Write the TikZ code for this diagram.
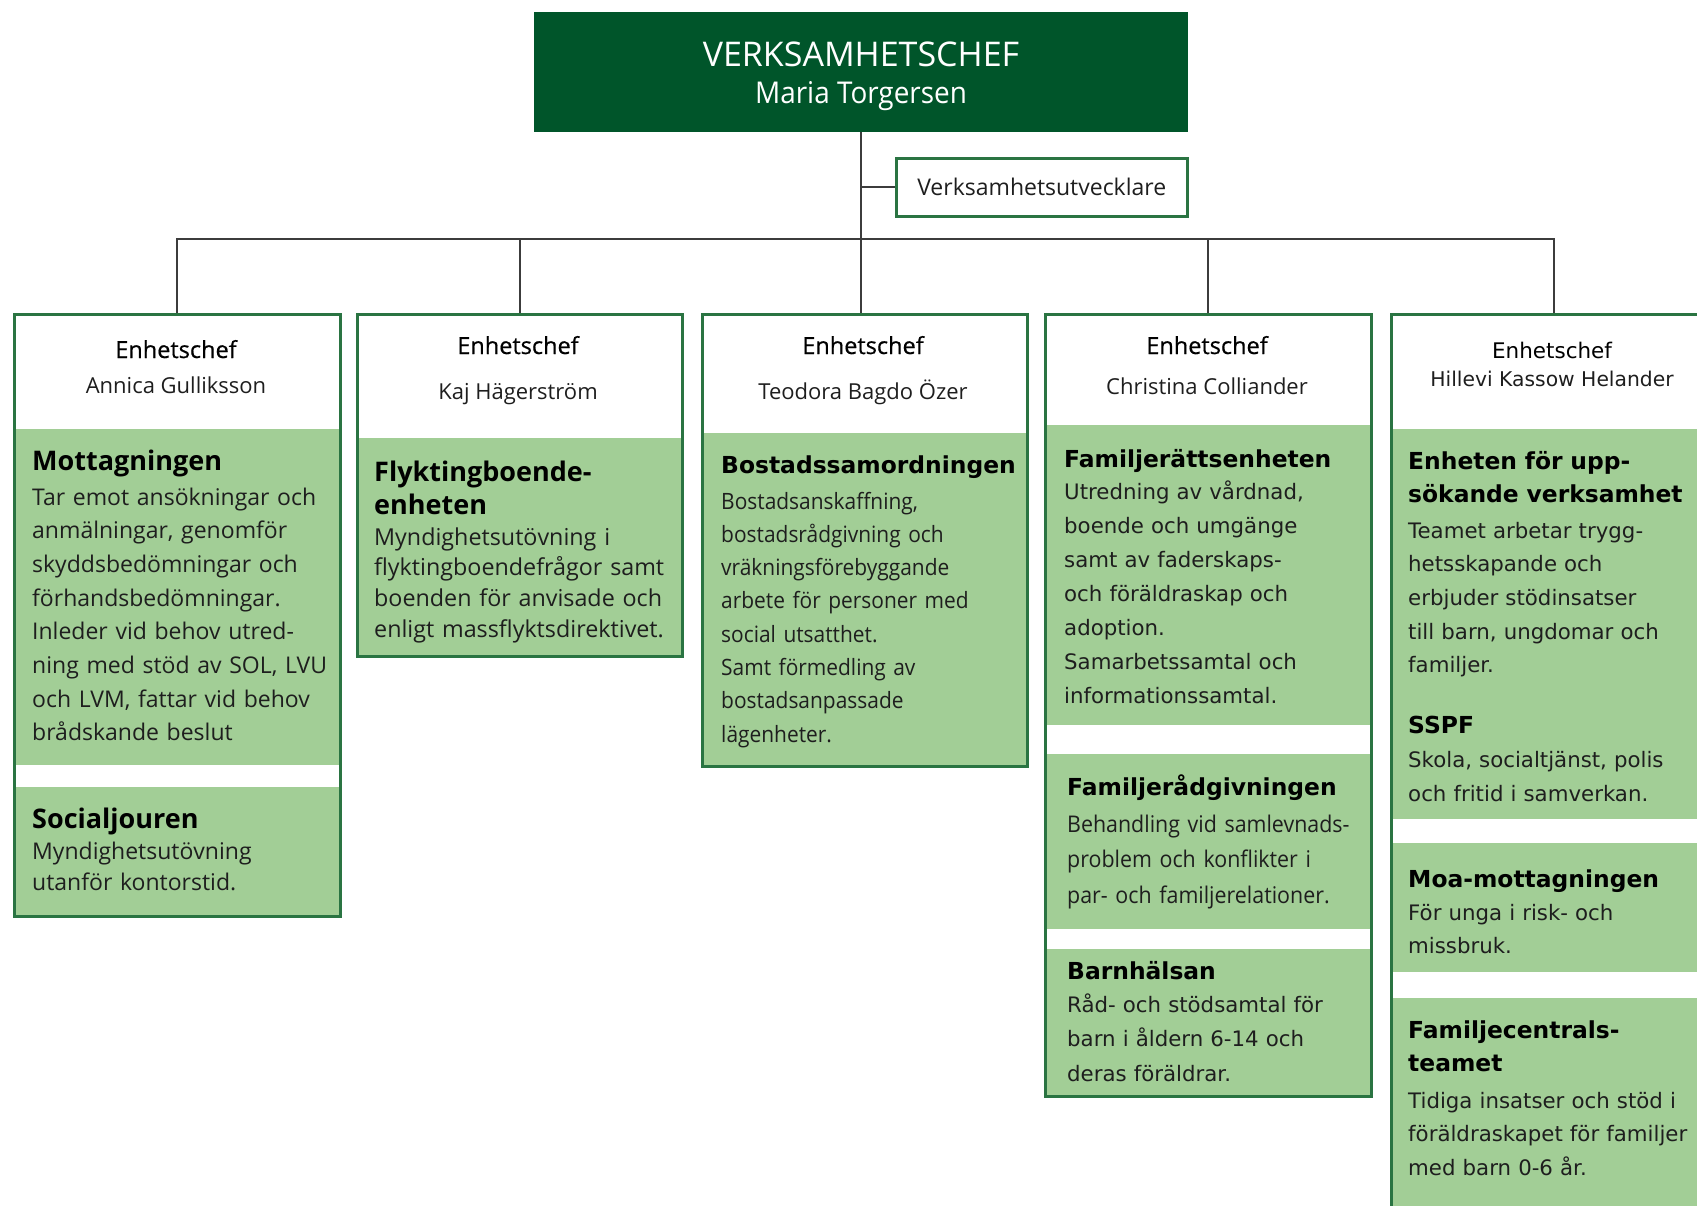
\documentclass[tikz,border=0pt]{standalone}
\usepackage{fontspec}
\setmainfont{Open Sans}
\newfontfamily\fru{Open Sans}
\newfontfamily\frum[FakeBold=0.6]{Open Sans}
\newfontfamily\fruc[FakeStretch=0.93]{Open Sans}
\newfontfamily\ver{DejaVu Sans}
\definecolor{dkgreen}{RGB}{0,85,42}
\definecolor{ltgreen}{RGB}{162,206,150}
\definecolor{bordergreen}{RGB}{42,116,66}
\definecolor{linegray}{RGB}{60,60,60}
\definecolor{txt}{RGB}{30,30,30}
\tikzset{
  unitbox/.style={draw=bordergreen, line width=2.5pt, anchor=north west, inner sep=0pt},
  conn/.style={draw=linegray, line width=2pt},
  hd/.style={anchor=base west, inner sep=0pt, align=left, text width=330pt, text=black,
    font=\fru\bfseries\fontsize{27}{33}\selectfont},
  vhd/.style={anchor=base west, inner sep=0pt, align=left, text width=340pt, text=black,
    font=\ver\bfseries\fontsize{23.4}{33}\selectfont},
  bd/.style={anchor=base west, inner sep=0pt, align=left, text width=360pt, text=txt},
  chef/.style={anchor=base, inner sep=0pt, text=black, font=\frum\fontsize{23.5}{28}\selectfont},
  pname/.style={anchor=base, inner sep=0pt, text=txt, font=\fru\fontsize{22}{28}\selectfont},
}
\begin{document}
\begin{tikzpicture}[x=1pt,y=-1pt]
\useasboundingbox (0,0) rectangle (1697,1205);
\clip (0,0) rectangle (1697,1205);
% green sections
\fill[ltgreen] (13,429) rectangle (339,765);
\fill[ltgreen] (13,787) rectangle (339,915);
\fill[ltgreen] (356,438) rectangle (681,655);
\fill[ltgreen] (701,433) rectangle (1026,765);
\fill[ltgreen] (1044,425) rectangle (1370,725);
\fill[ltgreen] (1044,754) rectangle (1370,929);
\fill[ltgreen] (1044,949) rectangle (1370,1095);
\fill[ltgreen] (1390,429) rectangle (1716,819);
\fill[ltgreen] (1390,843) rectangle (1716,972);
\fill[ltgreen] (1390,998) rectangle (1716,1240);
% boxes
\node[fill=dkgreen, minimum width=654pt, minimum height=120pt, anchor=north west, inner sep=0pt] (top) at (534,12) {};
\node[anchor=base, inner sep=0pt, text=white, font=\fru\fontsize{34}{39}\selectfont] (toptitle) at (861,66) {VERKSAMHETSCHEF};
\node[anchor=base, inner sep=0pt, text=white, font=\fruc\fontsize{30}{39}\selectfont] (topname) at (861,103) {Maria Torgersen};
\node[unitbox, minimum width=291pt, minimum height=58pt, text=txt,
  font=\fru\fontsize{23}{28}\selectfont] (vu) at (895,157) {Verksamhetsutvecklare};
\node[unitbox, minimum width=326pt, minimum height=602pt] (b1) at (13,313) {};
\node[unitbox, minimum width=325pt, minimum height=342pt] (b2) at (356,313) {};
\node[unitbox, minimum width=325pt, minimum height=452pt] (b3) at (701,313) {};
\node[unitbox, minimum width=326pt, minimum height=782pt] (b4) at (1044,313) {};
\node[unitbox, minimum width=326pt, minimum height=920pt] (b5) at (1390,313) {};
% connectors
\coordinate (bus) at (0,239);
\draw[conn] (top.south) -- (top.south |- b3.north);
\draw[conn] (top.south |- vu.west) -- (vu.west);
\draw[conn] (b1.north) -- (b1.north |- bus) -- (b5.north |- bus) -- (b5.north);
\draw[conn] (b2.north) -- (b2.north |- bus);
\draw[conn] (b4.north) -- (b4.north |- bus);
% headers
\node[chef] (h1a) at (176,358) {Enhetschef};
\node[pname] (h1b) at (176,393) {Annica Gulliksson};
\node[chef] (h2a) at (518,354) {Enhetschef};
\node[pname] (h2b) at (518,399) {Kaj Hägerström};
\node[chef] (h3a) at (863,354) {Enhetschef};
\node[pname] (h3b) at (863,399) {Teodora Bagdo Özer};
\node[chef] (h4a) at (1207,354) {Enhetschef};
\node[pname] (h4b) at (1207,394) {Christina Colliander};
\node[chef, font=\ver\fontsize{21.5}{24}\selectfont] (h5a) at (1552,358) {Enhetschef};
\node[pname, font=\ver\fontsize{20.3}{24}\selectfont] (h5b) at (1552,386) {Hillevi Kassow Helander};
% box 1
\node[hd] (s1h) at (32,470) {Mottagningen};
\node[bd, font=\fru\fontsize{23}{33.7}\selectfont] (s1b) at (32,505)
  {Tar emot ansökningar och\\anmälningar, genomför\\skyddsbedömningar och\\förhandsbedömningar.\\Inleder vid behov utred-\\ning med stöd av SOL, LVU\\och LVM, fattar vid behov\\brådskande beslut};
\node[hd] (s2h) at (32,828) {Socialjouren};
\node[bd, font=\fru\fontsize{23}{31}\selectfont] (s2b) at (32,859)
  {Myndighetsutövning\\utanför kontorstid.};
% box 2
\node[hd] (s3h) at (374,481) {Flyktingboende-\\enheten};
\node[bd, font=\fru\fontsize{23.3}{30.7}\selectfont] (s3b) at (374,545)
  {Myndighetsutövning i\\flyktingboendefrågor samt\\boenden för anvisade och\\enligt massflyktsdirektivet.};
% box 3
\node[vhd] (s4h) at (721,473) {Bostadssamordningen};
\node[bd, font=\fruc\fontsize{22.5}{33.3}\selectfont] (s4b) at (721,509)
  {Bostadsanskaffning,\\bostadsrådgivning och\\vräkningsförebyggande\\arbete för personer med\\social utsatthet.\\Samt förmedling av\\bostadsanpassade\\lägenheter.};
% box 4
\node[vhd] (s5h) at (1064,467) {Familjerättsenheten};
\node[bd, font=\ver\fontsize{21.3}{34}\selectfont] (s5b) at (1064,499)
  {Utredning av vårdnad,\\boende och umgänge\\samt av faderskaps-\\och föräldraskap och\\adoption.\\Samarbetssamtal och\\informationssamtal.};
\node[vhd] (s6h) at (1067,795) {Familjerådgivningen};
\node[bd, font=\fruc\fontsize{23}{35.5}\selectfont] (s6b) at (1067,832)
  {Behandling vid samlevnads-\\problem och konflikter i\\par- och familjerelationer.};
\node[vhd] (s7h) at (1067,979) {Barnhälsan};
\node[bd, font=\ver\fontsize{21.3}{34.5}\selectfont] (s7b) at (1067,1012)
  {Råd- och stödsamtal för\\barn i åldern 6-14 och\\deras föräldrar.};
% box 5
\node[vhd] (s8h) at (1408,469) {Enheten för upp-\\sökande verksamhet};
\node[bd, font=\ver\fontsize{21.3}{33.7}\selectfont] (s8b) at (1408,538)
  {Teamet arbetar trygg-\\hetsskapande och\\erbjuder stödinsatser\\till barn, ungdomar och\\familjer.};
\node[vhd] (s9h) at (1408,733) {SSPF};
\node[bd, font=\ver\fontsize{21.3}{34}\selectfont] (s9b) at (1408,767)
  {Skola, socialtjänst, polis\\och fritid i samverkan.};
\node[vhd] (s10h) at (1408,887) {Moa-mottagningen};
\node[bd, font=\ver\fontsize{21.3}{33}\selectfont] (s10b) at (1408,920)
  {För unga i risk- och\\missbruk.};
\node[vhd] (s11h) at (1408,1038) {Familjecentrals-\\teamet};
\node[bd, font=\ver\fontsize{21.3}{33.5}\selectfont] (s11b) at (1408,1108)
  {Tidiga insatser och stöd i\\föräldraskapet för familjer\\med barn 0-6 år.};
\end{tikzpicture}
\end{document}
